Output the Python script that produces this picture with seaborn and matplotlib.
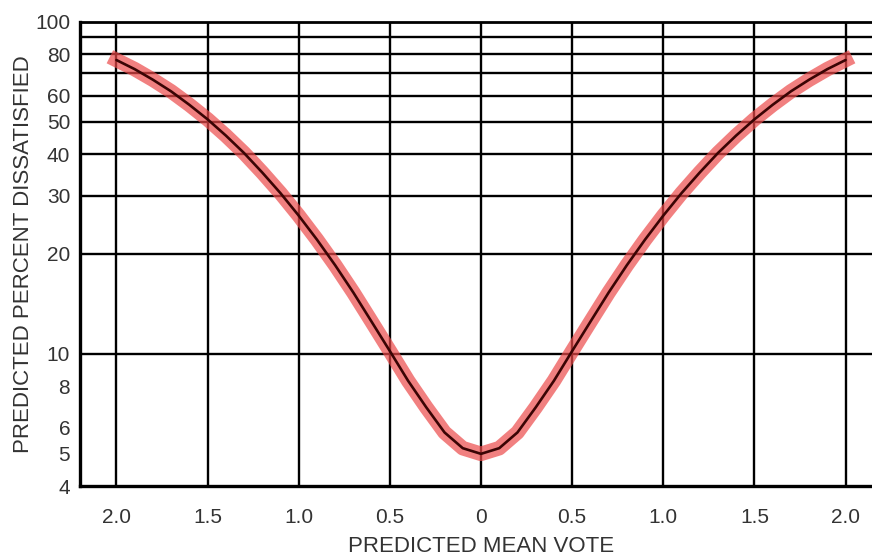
import matplotlib
matplotlib.use("Agg")
import matplotlib.pyplot as plt
import matplotlib.ticker as mticker
import numpy as np
import pandas as pd
import seaborn as sns

# Predicted Mean Vote vs Predicted Percent Dissatisfied
pmv = [-2.0, -1.9, -1.8, -1.7, -1.6, -1.5, -1.4, -1.3, -1.2, -1.1, -1.0,
       -0.9, -0.8, -0.7, -0.6, -0.5, -0.4, -0.3, -0.2, -0.1, 0.0,
       0.1, 0.2, 0.3, 0.4, 0.5, 0.6, 0.7, 0.8, 0.9, 1.0,
       1.1, 1.2, 1.3, 1.4, 1.5, 1.6, 1.7, 1.8, 1.9, 2.0]
ppd = [76.8, 72.1, 67.0, 61.8, 56.3, 50.9, 45.5, 40.3, 35.2, 30.5, 26.1,
       22.1, 18.5, 15.3, 12.5, 10.2, 8.3, 6.9, 5.8, 5.2, 5.0,
       5.2, 5.8, 6.9, 8.3, 10.2, 12.5, 15.3, 18.5, 22.1, 26.1,
       30.5, 35.2, 40.3, 45.5, 50.9, 56.3, 61.8, 67.0, 72.1, 76.8]

x_major = [-2.0, -1.5, -1.0, -0.5, 0.0, 0.5, 1.0, 1.5, 2.0]
x_labels = ["2.0", "1.5", "1.0", "0.5", "0", "0.5", "1.0", "1.5", "2.0"]
y_labels = [4, 5, 6, 8, 10, 20, 30, 40, 50, 60, 80, 100]
y_grid = [10, 20, 30, 40, 50, 60, 70, 80, 90]

df = pd.DataFrame({"PMV": pmv, "PPD": ppd})

sns.set_style("white")
plt.rcParams["font.family"] = ["Liberation Sans", "DejaVu Sans"]

fig = plt.figure(figsize=(8.72, 5.55), dpi=100)
ax = fig.add_axes([0.0917, 0.1243, 0.9198, 0.8361])

ax.set_yscale("log")
ax.set_xlim(-2.2, 2.2)
ax.set_ylim(4, 100)

# grid
for gx in x_major:
    ax.axvline(gx, color="black", lw=1.7, zorder=1)
for gy in y_grid:
    ax.axhline(gy, color="black", lw=1.7, zorder=1)
ax.axhline(100, color="black", lw=2.0, zorder=1, clip_on=False)

# comfort band and centre curve
sns.lineplot(data=df, x="PMV", y="PPD", ax=ax, color="#ec4a4a", lw=10.5,
             alpha=0.7, zorder=3, solid_capstyle="projecting")
sns.lineplot(data=df, x="PMV", y="PPD", ax=ax, color="#3a0404", lw=1.9,
             zorder=4)

ax.set_xticks(x_major)
ax.set_xticklabels(x_labels)
ax.xaxis.set_minor_locator(mticker.MultipleLocator(0.1))
ax.set_yticks(y_labels)
ax.set_yticklabels([str(v) for v in y_labels])
ax.yaxis.set_minor_locator(mticker.NullLocator())

ax.tick_params(axis="x", which="major", direction="out", length=10, width=1.8,
               labelsize=15, pad=6, colors="black", labelcolor="#333333")
ax.tick_params(axis="x", which="minor", direction="out", length=6, width=1.6,
               colors="black")
ax.tick_params(axis="y", which="both", length=0, labelsize=15, pad=7,
               labelcolor="#333333")

for side in ["top", "right"]:
    ax.spines[side].set_visible(False)
for side in ["left", "bottom"]:
    ax.spines[side].set_color("black")
    ax.spines[side].set_linewidth(2.4)

ax.set_xlabel("PREDICTED MEAN VOTE", fontsize=16, color="#333333", labelpad=6)
ax.set_ylabel("PREDICTED PERCENT DISSATISFIED", fontsize=16, color="#333333",
              labelpad=1)

fig.savefig("out.png", dpi=100)
